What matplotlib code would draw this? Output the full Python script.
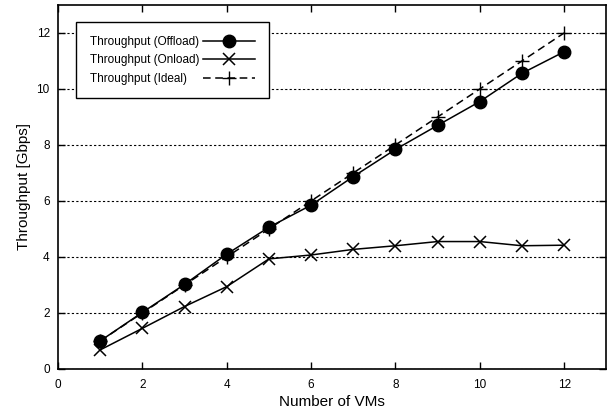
import numpy as np
from matplotlib import pyplot as plt

plt.rcParams['font.family'] = ['Liberation Sans', 'DejaVu Sans']

# Data
vms = [1, 2, 3, 4, 5, 6, 7, 8, 9, 10, 11, 12]
offload = [1.0, 2.02, 3.02, 4.1, 5.06, 5.85, 6.87, 7.84, 8.7, 9.55, 10.56, 11.33]
onload = [0.68, 1.45, 2.23, 2.94, 3.93, 4.07, 4.27, 4.4, 4.55, 4.55, 4.4, 4.42]
ideal = [1, 2, 3, 4, 5, 6, 7, 8, 9, 10, 11, 12]

fig = plt.figure(figsize=(6.14, 4.15), dpi=100)
ax = fig.add_axes([0.0945, 0.111, 0.893, 0.877])

ax.plot(vms, offload, color='black', lw=1.1, marker='o', ms=9,
        label='Throughput (Offload)')
ax.plot(vms, onload, color='black', lw=1.1, marker='x', ms=9, mew=1.1,
        label='Throughput (Onload)')
ax.plot(vms, ideal, color='black', lw=1.1, ls=(0, (5, 3)), marker='+', ms=10,
        mew=1.0, label='Throughput (Ideal)')

ax.set_xlim(0, 13)
ax.set_ylim(0, 13)
ax.set_xticks(range(0, 13, 2))
ax.set_yticks(range(0, 13, 2))
ax.tick_params(direction='in', top=True, right=True, length=5, width=1,
               labelsize=8.5)
ax.tick_params(axis='x', pad=7)
ax.tick_params(axis='y', pad=6)
ax.yaxis.grid(True, ls=(0, (2, 2)), color='black', lw=0.8)
for s in ax.spines.values():
    s.set_linewidth(1.2)

ax.set_xlabel('Number of VMs', fontsize=11, labelpad=3)
ax.set_ylabel('Throughput [Gbps]', fontsize=11, labelpad=4)

leg = ax.legend(loc='upper left', bbox_to_anchor=(0.033, 0.953), borderaxespad=0,
                markerfirst=False, fontsize=8.5, fancybox=False,
                edgecolor='black', framealpha=1, handlelength=4.4,
                handletextpad=0.35, borderpad=1.15, labelspacing=0.55)
leg.get_frame().set_linewidth(1.0)

# gnuplot-style key: texts left aligned, samples right aligned
fig.canvas.draw()
r = fig.canvas.get_renderer()
widths = [t.get_window_extent(r).width * 72 / fig.dpi for t in leg.get_texts()]
rows = leg._legend_handle_box.get_children()[0].get_children()
for row, w in zip(rows, widths):
    row.sep += max(widths) - w

fig.savefig('out.png', dpi=100)
